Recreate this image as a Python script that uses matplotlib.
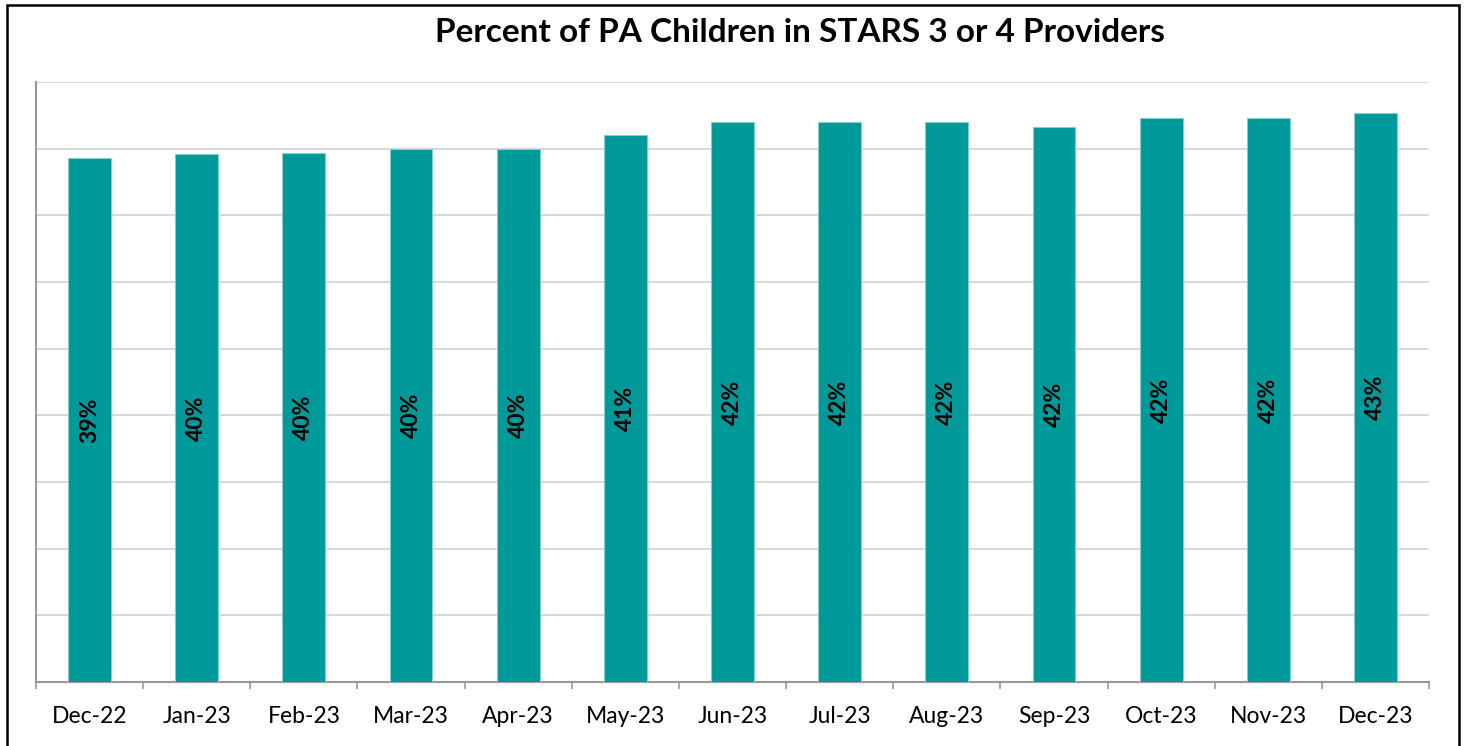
import matplotlib.pyplot as plt
from matplotlib.patches import Rectangle
import numpy as np

months = ['Dec-22', 'Jan-23', 'Feb-23', 'Mar-23', 'Apr-23', 'May-23', 'Jun-23',
          'Jul-23', 'Aug-23', 'Sep-23', 'Oct-23', 'Nov-23', 'Dec-23']
pct = [39.3, 39.6, 39.7, 40.0, 40.0, 41.0, 42.0, 42.0, 42.0, 41.6, 42.3, 42.3, 42.7]

plt.rcParams['font.family'] = ['Lato', 'DejaVu Sans']

W, H = 1466, 746
fig = plt.figure(figsize=(W / 100, H / 100), dpi=100)
ax = fig.add_axes([36 / W, 1 - 682 / H, (1429 - 36) / W, (682 - 82) / H])

x = np.arange(len(months))
bars = ax.bar(x, pct, width=0.4, color='#009999', edgecolor='#7fd0cc', linewidth=0.8, zorder=3)

for b, v in zip(bars, pct):
    ax.text(b.get_x() + b.get_width() / 2, v / 2, f'{round(v)}%', rotation=90,
            ha='center', va='center', fontsize=16.5, fontweight='bold', color='black', zorder=4)

ax.set_xlim(-0.5, len(months) - 0.5)
ax.set_ylim(0, 45)
ax.set_yticks(np.arange(0, 46, 5))
ax.set_yticklabels([])
ax.tick_params(axis='y', length=0)
ax.yaxis.grid(True, color='#d9d9d9', linewidth=1.5, zorder=0)

ax.set_xticks(x)
ax.set_xticklabels(months, fontsize=16.5)
ax.set_xticks(np.arange(-0.5, len(months)), minor=True)
ax.tick_params(axis='x', which='major', length=0, pad=17)
ax.tick_params(axis='x', which='minor', length=5, width=1.2, color='#999999', direction='out')

for s in ['top', 'right']:
    ax.spines[s].set_visible(False)
for s in ['left', 'bottom']:
    ax.spines[s].set_color('#999999')
    ax.spines[s].set_linewidth(1.5)

fig.text(800 / W, 1 - 33 / H, 'Percent of PA Children in STARS 3 or 4 Providers',
         ha='center', va='center', fontsize=24, fontweight='bold')

fig.patches.append(Rectangle((6.5 / W, -0.05), (1459 - 6.5) / W, 1.05 - 4.5 / H,
                             transform=fig.transFigure, fill=False,
                             edgecolor='black', linewidth=1.8))

fig.savefig('out.png', dpi=100)
